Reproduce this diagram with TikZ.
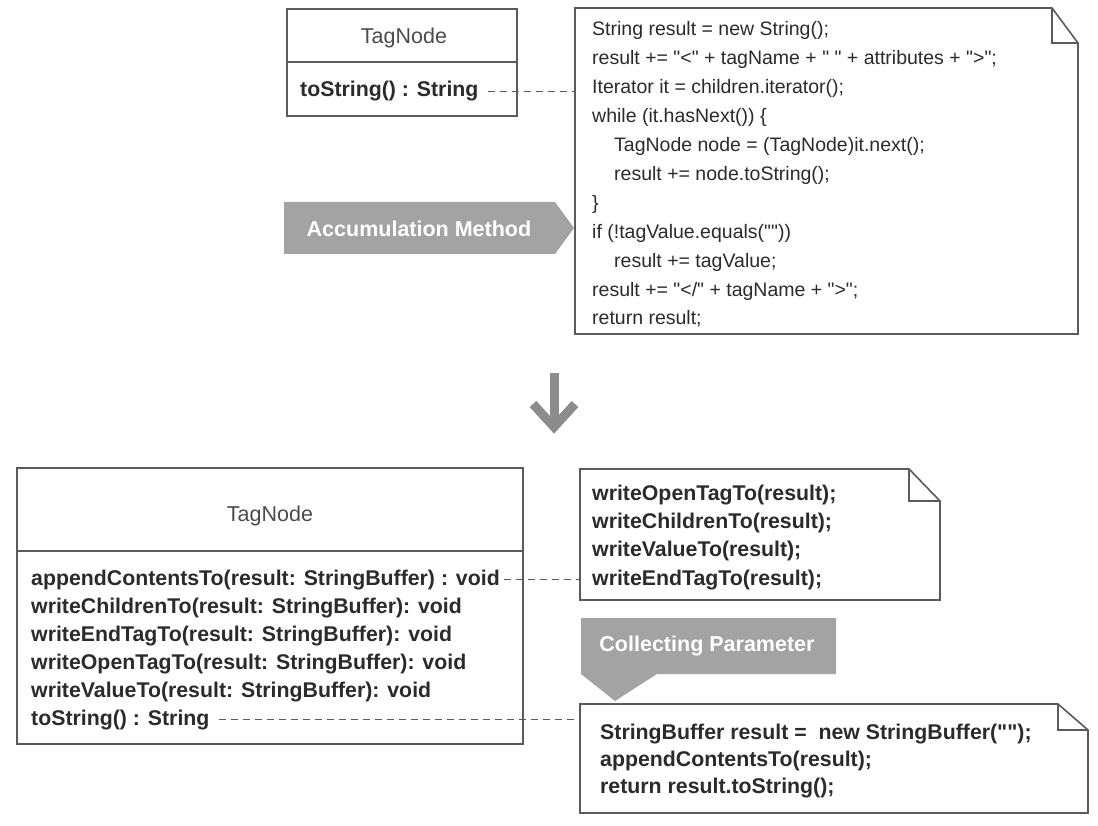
\documentclass[tikz,border=0pt]{standalone}
\usepackage{fontspec}
\setmainfont{Liberation Sans}[Ligatures=TeXOff]
\usetikzlibrary{calc}
\definecolor{ink}{HTML}{2B2B2B}
\definecolor{framegray}{HTML}{5A5A5A}
\definecolor{tagfill}{HTML}{A3A3A3}
\definecolor{arrowgray}{HTML}{8C8C8C}

% plain double quote character
\newcommand\straightq{\symbol{34}}

% folded-corner note outline: #1 node, #2 fold width, #3 fold height
\newcommand\dognote[3]{%
  \draw[frame, fill=white] (#1.north west) -- ([xshift=-#2]#1.north east)
    -- ([yshift=-#3]#1.north east) -- (#1.south east) -- (#1.south west) -- cycle;
  \draw[frame, line join=miter] ([xshift=-#2]#1.north east) |- ([yshift=-#3]#1.north east);}

\begin{document}
\begin{tikzpicture}[x=1pt,y=-1pt,
  frame/.style={draw=framegray, line width=1.6pt},
  area/.style={anchor=north west, inner sep=0pt, outer sep=0pt},
  txt/.style={anchor=base west, inner sep=0pt, text=ink, font=\fontsize{19.5}{24}\selectfont},
  btxt/.style={anchor=base west, inner sep=0pt, text=ink, font=\fontsize{21.3}{26}\selectfont\bfseries},
  title/.style={anchor=base, inner sep=0pt, text=ink!85, font=\fontsize{21.5}{26}\selectfont},
  link/.style={draw=framegray, line width=1.2pt, dash pattern=on 7pt off 5pt},
  tagtext/.style={text=white, inner sep=0pt, font=\fontsize{21.5}{26}\selectfont\bfseries}
]
\useasboundingbox[fill=white] (0,0) rectangle (1098,826);

% ---------- before: accumulation method ----------
\node[area, frame, minimum width=230pt, minimum height=107pt] (cls1) at (287,9) {};
\draw[frame] (287,62) -- (517,62);
\node[title] (cls1name) at (404,44) {TagNode};
\node[btxt] (cls1op) at (300,97) {toString() : String};

\node[area, minimum width=503pt, minimum height=326pt] (code1) at (575,8) {};
\dognote{code1}{26pt}{35pt}
\node[txt] (c1)  at (592,36.0)  {String result = new String();};
\node[txt] (c2)  at (592,64.9)  {result += \straightq<\straightq{} + tagName + \straightq{} \straightq{} + attributes + \straightq>\straightq;};
\node[txt] (c3)  at (592,93.8)  {Iterator it = children.iterator();};
\node[txt] (c4)  at (592,122.7) {while (it.hasNext()) \{};
\node[txt] (c5)  at (614,151.6) {TagNode node = (TagNode)it.next();};
\node[txt] (c6)  at (614,180.5) {result += node.toString();};
\node[txt] (c7)  at (592,209.4) {\}};
\node[txt] (c8)  at (592,238.3) {if (!tagValue.equals(\straightq\straightq))};
\node[txt] (c9)  at (614,267.2) {result += tagValue;};
\node[txt] (c10) at (592,296.1) {result += \straightq</\straightq{} + tagName + \straightq>\straightq;};
\node[txt] (c11) at (592,325.0) {return result;};

\draw[link] ($(cls1op.east)+(9,0)$) -- (cls1op.east -| code1.west);

% label arrow pointing at the code note
\fill[tagfill] (284,202) -- (555,202) -- (574,228) -- (555,254) -- (284,254) -- cycle;
\node[tagtext] (accum) at (419,229) {Accumulation Method};

% ---------- transformation arrow ----------
\coordinate (arrowTop) at (554,373);
\coordinate (arrowTip) at (554,427);
\draw[arrowgray, line width=9pt] (arrowTop) -- ([yshift=4pt]arrowTip);
\draw[arrowgray, line width=9pt, line join=miter]
  ($(arrowTip)+(-21,-23)$) -- (arrowTip) -- ($(arrowTip)+(21,-23)$);

% ---------- after: collecting parameter ----------
\node[area, frame, minimum width=506pt, minimum height=276pt] (cls2) at (17,468) {};
\draw[frame] (17,551) -- (523,551);
\node[title] (cls2name) at (270,521) {TagNode};
\node[btxt] (m1) at (31,585) {appendContentsTo(result: StringBuffer) : void};
\node[btxt] (m2) at (31,613) {writeChildrenTo(result: StringBuffer): void};
\node[btxt] (m3) at (31,641) {writeEndTagTo(result: StringBuffer): void};
\node[btxt] (m4) at (31,669) {writeOpenTagTo(result: StringBuffer): void};
\node[btxt] (m5) at (31,697) {writeValueTo(result: StringBuffer): void};
\node[btxt] (m6) at (31,725) {toString() : String};

\node[area, minimum width=360pt, minimum height=131pt] (code2) at (580,469) {};
\dognote{code2}{31pt}{32pt}
\node[btxt] (d1) at (592,500.0) {writeOpenTagTo(result);};
\node[btxt] (d2) at (592,528.3) {writeChildrenTo(result);};
\node[btxt] (d3) at (592,556.6) {writeValueTo(result);};
\node[btxt] (d4) at (592,585.0) {writeEndTagTo(result);};

\node[area, minimum width=508pt, minimum height=109pt] (code3) at (580,704) {};
\dognote{code3}{30pt}{26pt}
\node[btxt] (e1) at (600,739) {StringBuffer result = \ new StringBuffer(\straightq\straightq);};
\node[btxt] (e2) at (600,766) {appendContentsTo(result);};
\node[btxt] (e3) at (600,793) {return result.toString();};

\draw[link] ($(m1.east)+(4,0)$) -- (m1.east -| code2.west);
\draw[link] ($(m6.east)+(9,0)$) -- (m6.east -| code3.west);

% callout naming the refactoring target
\fill[tagfill] (581,618) -- (836,618) -- (836,674) -- (657,674) -- (615,701) -- (581,674) -- cycle;
\node[tagtext] (collect) at (707,646) {Collecting Parameter};
\end{tikzpicture}
\end{document}
